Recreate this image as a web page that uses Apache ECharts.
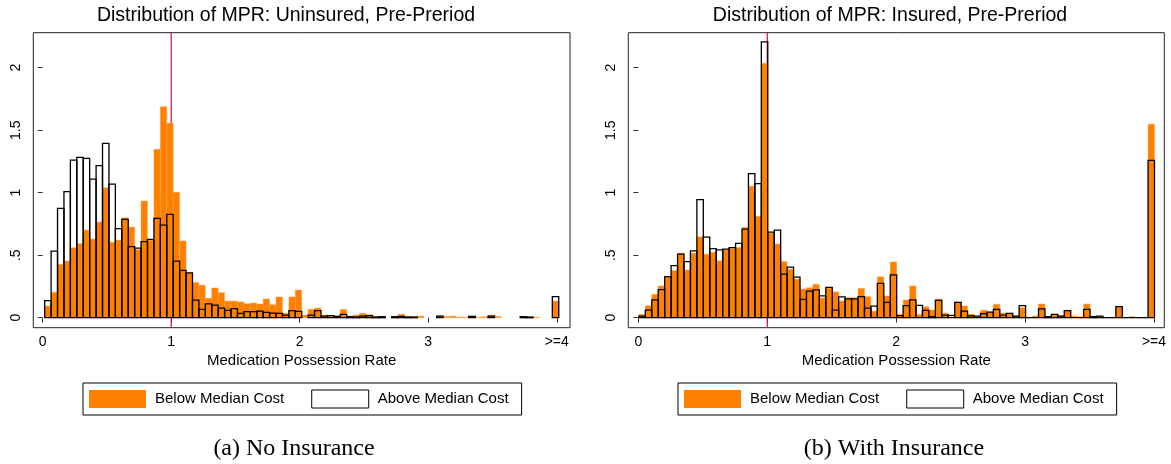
<!DOCTYPE html>
<html>
<head>
<meta charset="utf-8">
<script src="https://cdn.jsdelivr.net/npm/echarts@6/dist/echarts.min.js"></script>
<style>
  html, body { margin: 0; padding: 0; background: #fff; }
  #chart { width: 1171px; height: 464px; }
</style>
</head>
<body>
<div id="chart"></div>
<script>
// Histogram bins: width 0.05 on the MPR scale, last bin holds MPR >= 4
const binWidth = 0.05;
const startUninsured = 0.0155;
const startInsured = 0.004;

// Density per bin; null = empty bin (nothing drawn)
const uninsuredBelow = [
  0.093, 0.203, 0.427, 0.453, 0.560, 0.592, 0.701, 0.629, 0.765, 1.040,
  0.603, 0.621, 0.800, 0.725, 0.545, 0.933, 0.620, 1.347, 1.688, 1.555,
  1.003, 0.614, 0.360, 0.282, 0.260, 0.155, 0.238, 0.200, 0.133, 0.133,
  0.127, 0.112, 0.117, 0.110, 0.150, 0.104, 0.166, 0.035, 0.166, 0.221,
  0.021, 0.067, 0.077, 0.021, 0.016, 0.011, 0.067, 0.013, 0.021, 0.035,
  0.024, 0.011, 0.008, null, 0.008, 0.027, 0.011, 0.008, 0.013, null,
  null, 0.013, 0.011, 0.013, 0.005, 0.005, 0.011, 0.005, 0.008, 0.021,
  0.011, null, null, null, 0.008, 0.005, 0.005, null, null, 0.133
];
const uninsuredAbove = [
  0.136, 0.533, 0.875, 1.008, 1.261, 1.283, 1.275, 1.109, 1.216, 1.395,
  1.069, 0.712, 0.787, 0.568, 0.557, 0.608, 0.627, 0.795, 0.741, 0.827,
  0.453, 0.378, 0.358, 0.141, 0.067, 0.110, 0.101, 0.076, 0.058, 0.072,
  0.035, 0.048, 0.048, 0.052, 0.043, 0.036, 0.035, 0.020, 0.056, 0.050,
  null, 0.021, 0.056, 0.013, 0.016, 0.011, 0.027, 0.008, 0.005, 0.013,
  0.016, 0.005, 0.008, null, 0.008, 0.011, 0.005, 0.005, null, null,
  null, 0.013, null, null, null, null, 0.011, null, null, 0.013,
  null, null, null, null, 0.008, 0.005, null, null, null, 0.168
];
const insuredBelow = [
  0.027, 0.096, 0.187, 0.254, 0.329, 0.377, 0.516, 0.382, 0.516, 0.647,
  0.508, 0.524, 0.455, 0.543, 0.553, 0.561, 0.722, 1.051, 0.810, 2.035,
  0.676, 0.589, 0.449, 0.388, 0.308, 0.230, 0.240, 0.267, 0.158, 0.236,
  0.207, 0.134, 0.160, 0.160, 0.234, 0.168, 0.052, 0.327, 0.174, 0.446,
  0.027, 0.142, 0.254, 0.027, 0.088, 0.061, 0.150, 0.036, 0.008, 0.125,
  0.094, 0.028, 0.008, 0.060, 0.045, 0.108, 0.037, 0.035, 0.013, 0.080,
  0, 0.013, 0.110, 0.008, 0.027, 0.016, 0.060, 0.013, 0.008, 0.110,
  0.013, 0.008, 0, 0, 0.088, 0, 0.008, 0, 0, 1.548
];
const insuredAbove = [
  0.013, 0.061, 0.142, 0.225, 0.329, 0.417, 0.508, 0.449, 0.535, 0.944,
  0.644, 0.553, 0.543, 0.548, 0.561, 0.594, 0.709, 1.152, 1.072, 2.206,
  0.684, 0.701, 0.348, 0.404, 0.324, 0.146, 0.212, 0.222, 0.174, 0.242,
  0.061, 0.167, 0.150, 0.150, 0.168, 0.077, 0.093, 0.275, 0.123, 0.342,
  0.016, 0.096, 0.143, 0.098, 0.058, 0.008, 0.138, 0.021, 0.019, 0.122,
  0.052, 0.015, 0.013, 0.033, 0.044, 0.067, 0.020, 0.035, 0.013, 0.096,
  0, 0, 0.070, 0.008, 0.027, 0.013, 0.056, 0, 0, 0.067,
  0.008, 0.013, 0, 0, 0.088, 0, 0, 0, 0, 1.259
];

const xTicks = [0, 1, 2, 3, 4];
const xTickLabels = ['0', '1', '2', '3', '>=4'];
const yTicks = [0, 0.5, 1, 1.5, 2];
const yTickLabels = ['0', '.5', '1', '1.5', '2'];

const panelTitles = ['Distribution of MPR: Uninsured, Pre-Preriod', 'Distribution of MPR: Insured, Pre-Preriod'];
const captions = ['(a) No Insurance', '(b) With Insurance'];
const seriesNames = ['Below Median Cost', 'Above Median Cost'];
const xTitle = 'Medication Possession Rate';

const ORANGE = '#ff8000';
const RED = '#d0103c';
const SANS = '"Liberation Sans", Arial, Helvetica, sans-serif';
const SERIF = '"Liberation Serif", "Times New Roman", serif';

function toBins(values, start) {
  const out = [];
  values.forEach((v, i) => {
    if (v === null) return;
    out.push([start + i * binWidth, start + (i + 1) * binWidth, v]);
  });
  return out;
}

function lookup(ticks, labels) {
  return v => {
    const k = ticks.findIndex(t => Math.abs(t - v) < 1e-9);
    return k < 0 ? '' : labels[k];
  };
}

function histRenderer(style) {
  return function (params, api) {
    const top = api.coord([api.value(0), api.value(2)]);
    const base = api.coord([api.value(1), 0]);
    return {
      type: 'rect',
      shape: { x: top[0], y: top[1], width: base[0] - top[0], height: base[1] - top[1] },
      style: style
    };
  };
}

// vertical guide at MPR = 1 spanning the whole plot region
function guideRenderer(params, api) {
  const a = api.coord([api.value(0), api.value(1)]);
  const b = api.coord([api.value(0), api.value(2)]);
  return {
    type: 'line',
    shape: { x1: a[0], y1: a[1], x2: b[0], y2: b[1] },
    style: { stroke: RED, lineWidth: 1.2 }
  };
}

const grids = [
  { left: 33.3, top: 32.7, width: 536.7, height: 295 },
  { left: 628.3, top: 32.7, width: 536, height: 295 }
];
const xRanges = [[-0.073, 4.103], [-0.078, 4.08]];
const yRange = [-0.08, 2.28];

const panels = [
  { below: uninsuredBelow, above: uninsuredAbove, start: startUninsured },
  { below: insuredBelow, above: insuredAbove, start: startInsured }
];

const option = {
  animation: false,
  backgroundColor: '#fff',
  title: [
    { text: panelTitles[0], left: 286, top: 6, textAlign: 'center', padding: 0,
      textStyle: { fontFamily: SANS, fontSize: 19.5, fontWeight: 'normal', color: '#000' } },
    { text: panelTitles[1], left: 890, top: 6, textAlign: 'center', padding: 0,
      textStyle: { fontFamily: SANS, fontSize: 19.5, fontWeight: 'normal', color: '#000' } },
    { text: captions[0], left: 294, top: 437, textAlign: 'center', padding: 0,
      textStyle: { fontFamily: SERIF, fontSize: 24, fontWeight: 'normal', color: '#000' } },
    { text: captions[1], left: 894, top: 437, textAlign: 'center', padding: 0,
      textStyle: { fontFamily: SERIF, fontSize: 24, fontWeight: 'normal', color: '#000' } }
  ],
  legend: [83, 678].map(x => ({
    left: x, top: 383,
    orient: 'horizontal',
    padding: [6.5, 13, 6.5, 6],
    itemWidth: 57, itemHeight: 18, itemGap: 27,
    borderColor: '#000', borderWidth: 1, backgroundColor: '#fff',
    selectedMode: false,
    textStyle: { fontFamily: SANS, fontSize: 15, color: '#000', padding: [0, 0, 0, 4] },
    data: [
      { name: seriesNames[0], icon: 'rect', itemStyle: { color: ORANGE, borderWidth: 0 } },
      { name: seriesNames[1], icon: 'rect', itemStyle: { color: '#fff', borderColor: '#000', borderWidth: 1 } }
    ]
  })),
  grid: grids.map(g => Object.assign({ show: true, borderColor: '#222', borderWidth: 1, backgroundColor: 'transparent' }, g)),
  xAxis: [0, 1].map(g => ({
    gridIndex: g, type: 'value', min: xRanges[g][0], max: xRanges[g][1],
    axisLine: { show: false },
    splitLine: { show: false },
    axisTick: { show: true, customValues: xTicks, length: 5, lineStyle: { color: '#333', width: 1 } },
    axisLabel: { customValues: xTicks, formatter: lookup(xTicks, xTickLabels), margin: 7,
      fontFamily: SANS, fontSize: 14, color: '#000' },
    name: xTitle, nameLocation: 'middle', nameGap: 26,
    nameTextStyle: { fontFamily: SANS, fontSize: 15, color: '#000' }
  })),
  yAxis: [0, 1].map(g => ({
    gridIndex: g, type: 'value', min: yRange[0], max: yRange[1],
    axisLine: { show: false },
    splitLine: { show: false },
    axisTick: { show: true, customValues: yTicks, length: 5, lineStyle: { color: '#333', width: 1 } },
    axisLabel: { customValues: yTicks, formatter: lookup(yTicks, yTickLabels), rotate: 90, margin: 10,
      fontFamily: SANS, fontSize: 14, color: '#000' }
  })),
  series: []
};

panels.forEach((p, g) => {
  option.series.push({
    type: 'custom', xAxisIndex: g, yAxisIndex: g, z: 1, silent: true,
    renderItem: guideRenderer,
    data: [[1, yRange[0], yRange[1]]]
  });
  option.series.push({
    name: seriesNames[0], type: 'custom', xAxisIndex: g, yAxisIndex: g, z: 2,
    itemStyle: { color: ORANGE },
    encode: { x: [0, 1], y: 2 },
    renderItem: histRenderer({ fill: ORANGE, stroke: '#ffa040', lineWidth: 0.4 }),
    data: toBins(p.below, p.start)
  });
  option.series.push({
    name: seriesNames[1], type: 'custom', xAxisIndex: g, yAxisIndex: g, z: 3,
    itemStyle: { color: '#fff', borderColor: '#000', borderWidth: 1 },
    encode: { x: [0, 1], y: 2 },
    renderItem: histRenderer({ fill: 'none', stroke: '#000', lineWidth: 1.3 }),
    data: toBins(p.above, p.start)
  });
});

const chart = echarts.init(document.getElementById('chart'), null, { renderer: 'canvas' });
chart.setOption(option);
</script>
</body>
</html>
